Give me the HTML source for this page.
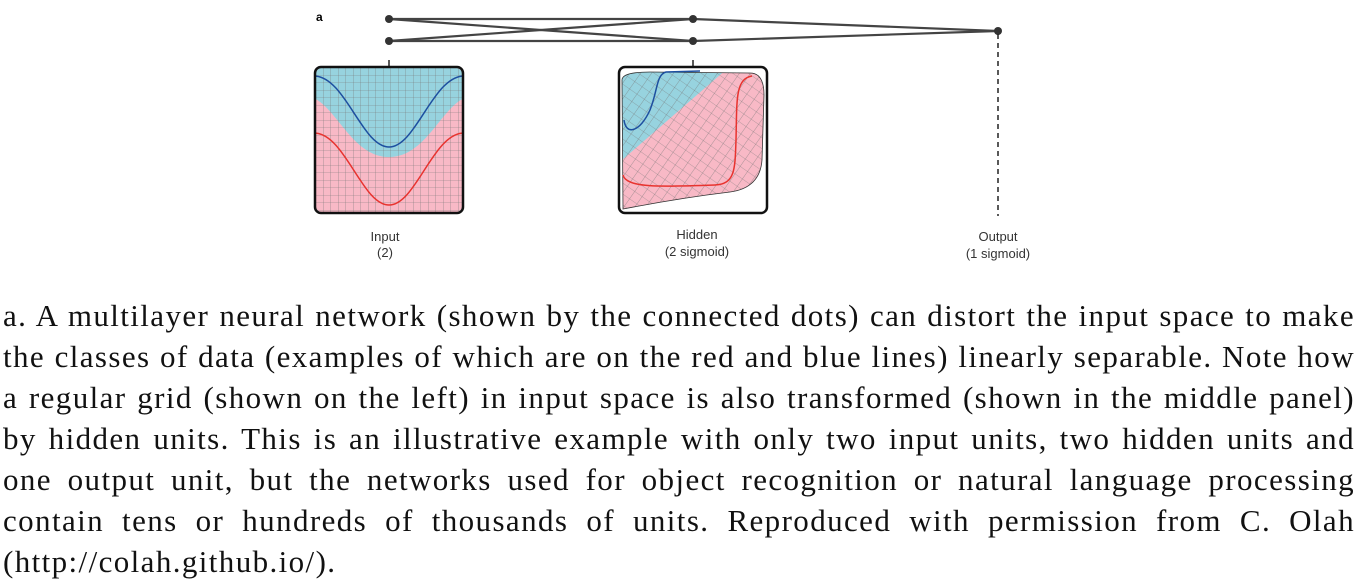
<!DOCTYPE html>
<html><head><meta charset="utf-8"><style>
body{margin:0;width:1360px;height:585px;background:#fff;overflow:hidden;position:relative}
svg{position:absolute;left:0;top:0}
.cap{position:absolute;left:3px;top:295px;width:1352px;font-family:"Liberation Serif",serif;font-size:31px;letter-spacing:1.4px;line-height:41px;color:#111}
.cap div{text-align:justify;text-align-last:justify;white-space:nowrap;height:41px}
.cap div.last{text-align-last:left}
.lbl{font-family:"Liberation Sans",sans-serif;font-size:13px;fill:#333;text-anchor:middle}
</style></head><body>
<svg width="1360" height="290" viewBox="0 0 1360 290">
<defs>
<pattern id="g" width="7.5" height="7.5" patternUnits="userSpaceOnUse" x="316" y="68"><path d="M7.5 0V7.5M0 7.5H7.5" stroke="#777" stroke-width="0.6" fill="none"/></pattern>
<pattern id="g2" width="9" height="9" patternUnits="userSpaceOnUse" patternTransform="rotate(35)"><path d="M9 0V9M0 9H9" stroke="#777" stroke-width="0.6" fill="none"/></pattern>
<clipPath id="c1"><rect x="316" y="68" width="146" height="144" rx="6"/></clipPath>
<clipPath id="c2"><path d="M622 80 Q622 72 650 72 L750 73 Q764 73 764 95 L762 160 Q760 188 730 192 Q680 198 623 209 Z"/></clipPath>
</defs>
<text x="316" y="21" font-family="Liberation Sans,sans-serif" font-weight="bold" font-size="12">a</text>
<g stroke="#444" stroke-width="2.2" fill="none">
<line x1="389" y1="19" x2="693" y2="19"/><line x1="389" y1="41" x2="693" y2="41"/>
<line x1="389" y1="19" x2="693" y2="41"/><line x1="389" y1="41" x2="693" y2="19"/>
<line x1="693" y1="19" x2="998" y2="31"/><line x1="693" y1="41" x2="998" y2="31"/>
</g>
<g fill="#333"><circle cx="389" cy="19" r="4"/><circle cx="389" cy="41" r="4"/><circle cx="693" cy="19" r="4"/><circle cx="693" cy="41" r="4"/><circle cx="998" cy="31" r="4"/></g>
<line x1="389" y1="60" x2="389" y2="66" stroke="#222" stroke-width="1.5"/>
<line x1="693" y1="60" x2="693" y2="66" stroke="#222" stroke-width="1.5"/>
<line x1="998" y1="34" x2="998" y2="216" stroke="#222" stroke-width="1.5" stroke-dasharray="5,4"/>
<g clip-path="url(#c1)">
<rect x="314" y="66" width="150" height="150" fill="#f8b9c6"/>
<path d="M314 66H464V98C440 110 425 157 389 157C353 157 338 110 314 98Z" fill="#97d3df"/>
<rect x="314" y="66" width="150" height="150" fill="url(#g)"/>
<path d="M314 76C345 76 362 147 389 147C416 147 433 76 464 76" stroke="#1d4fa0" stroke-width="1.5" fill="none"/>
<path d="M314 133C345 133 362 205 389 205C416 205 433 133 464 133" stroke="#e8332f" stroke-width="1.5" fill="none"/>
</g>
<rect x="315" y="67" width="148" height="146" rx="6" fill="none" stroke="#111" stroke-width="2.5"/>
<g clip-path="url(#c2)">
<rect x="620" y="68" width="148" height="146" fill="#f8b9c6"/>
<path d="M620 68H728L622 160Z" fill="#97d3df"/>
<rect x="620" y="68" width="148" height="146" fill="url(#g2)"/>
</g>
<path d="M622 80 Q622 72 650 72 L750 73 Q764 73 764 95 L762 160 Q760 188 730 192 Q680 198 623 209 Z" fill="none" stroke="#333" stroke-width="0.8"/>
<path d="M624 120C626 136 640 132 650 110C658 90 656 75 666 72L700 71" stroke="#1d4fa0" stroke-width="1.5" fill="none"/>
<path d="M623 175C626 188 660 187 715 185C735 184 735 170 736 140C737 100 735 79 752 76" stroke="#e8332f" stroke-width="1.5" fill="none"/>
<rect x="619" y="67" width="148" height="146" rx="6" fill="none" stroke="#111" stroke-width="2.5"/>
<text class="lbl" x="385" y="241">Input</text><text class="lbl" x="385" y="257">(2)</text>
<text class="lbl" x="697" y="239">Hidden</text><text class="lbl" x="697" y="256">(2 sigmoid)</text>
<text class="lbl" x="998" y="241">Output</text><text class="lbl" x="998" y="258">(1 sigmoid)</text>
</svg>
<div class="cap">
<div>a. A multilayer neural network (shown by the connected dots) can distort the input space to make</div>
<div>the classes of data (examples of which are on the red and blue lines) linearly separable. Note how</div>
<div>a regular grid (shown on the left) in input space is also transformed (shown in the middle panel)</div>
<div>by hidden units. This is an illustrative example with only two input units, two hidden units and</div>
<div>one output unit, but the networks used for object recognition or natural language processing</div>
<div>contain tens or hundreds of thousands of units. Reproduced with permission from C. Olah</div>
<div class="last">(http://colah.github.io/).</div>
</div>
</body></html>
